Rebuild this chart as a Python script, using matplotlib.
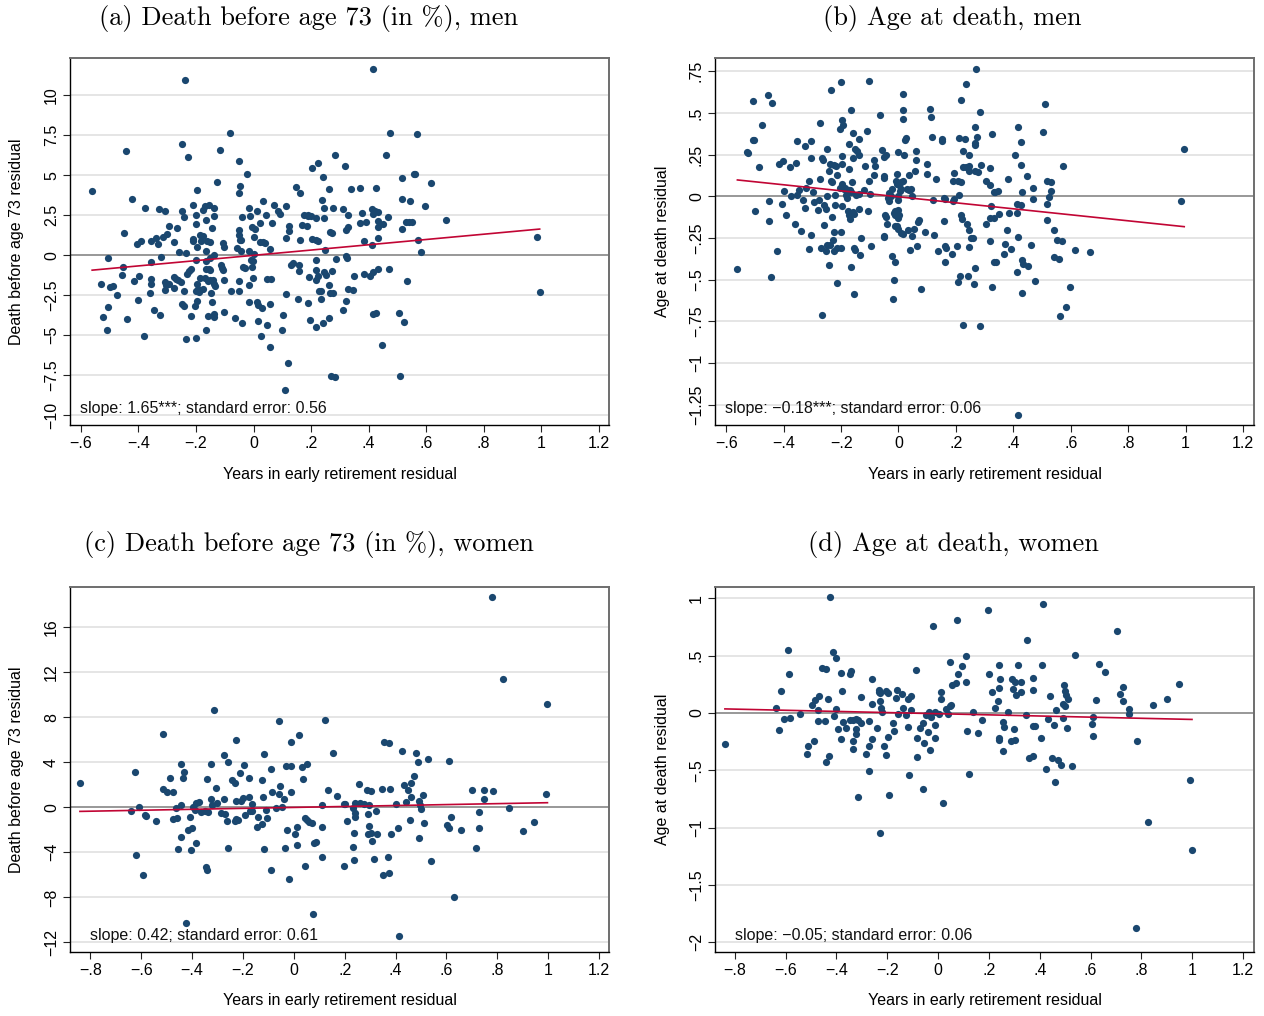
import numpy as np
import matplotlib
matplotlib.use("Agg")
import matplotlib.pyplot as plt

# residual scatter points (x: years in early retirement residual, y: outcome residual)
men_death = [
    (-0.238,10.96),(-0.080,7.65),(-0.249,6.98),(-0.443,6.54),(-0.227,6.13),(-0.117,6.60),(-0.052,5.90),(-0.024,5.10),(-0.128,4.58),(-0.561,4.00),
    (-0.422,3.54),(-0.196,4.06),(-0.048,4.35),(-0.049,3.92),(-0.377,2.98),(-0.327,2.92),(-0.309,2.75),(-0.212,3.17),(-0.248,2.75),(-0.200,2.50),
    (-0.174,2.85),(-0.155,3.17),(-0.137,2.94),(-0.169,3.06),(-0.137,2.44),(-0.241,2.38),(-0.294,1.81),(-0.267,1.73),(-0.200,1.96),(-0.166,2.23),
    (-0.449,1.38),(-0.406,0.73),(-0.391,0.88),(-0.356,0.88),(-0.339,1.08),(-0.333,0.71),(-0.301,1.35),(-0.314,1.15),(-0.278,0.83),(-0.260,0.21),
    (-0.234,0.13),(-0.209,1.00),(-0.212,0.88),(-0.196,0.52),(-0.186,1.29),(-0.174,1.19),(-0.181,0.88),(-0.162,0.88),(-0.150,0.81),(-0.164,0.25),
    (-0.146,1.71),(-0.139,0.04),(-0.106,0.75),(-0.104,0.52),(-0.507,-0.19),(-0.452,-0.75),(-0.456,-1.21),(-0.355,-0.42),(-0.321,-0.13),(-0.201,-0.29),
    (-0.166,-0.38),(-0.151,-0.17),(-0.154,-0.83),(-0.164,-0.83),(-0.151,-0.94),(-0.217,-0.83),(-0.225,-1.00),(-0.232,-1.17),(-0.114,-0.63),(-0.107,-0.94),
    (-0.109,-0.79),(-0.058,0.46),(-0.048,0.98),(-0.037,-0.75),(-0.029,-0.77),(-0.015,0.25),(-0.008,-0.29),(-0.001,-0.33),(0.001,0.08),(-0.006,-0.75),
    (-0.002,-1.44),(-0.045,0.29),(-0.043,0.94),(-0.050,1.25),(-0.052,1.56),(-0.012,2.48),(-0.039,2.40),(-0.015,2.96),(-0.005,1.77),(0.001,1.17),
    (0.012,2.75),(0.032,3.38),(0.021,2.02),(0.006,1.67),(0.023,0.81),(0.034,0.83),(0.043,2.54),(0.039,0.75),(0.056,0.42),(0.070,3.17),
    (0.084,2.79),(0.093,2.60),(0.114,3.06),(0.065,2.04),(0.114,1.06),(0.122,1.81),(0.125,1.54),(0.136,-0.46),(0.129,-0.63),(0.158,-0.58),
    (0.158,-1.00),(0.162,0.98),(0.167,1.90),(0.177,2.54),(0.189,2.54),(0.187,1.85),(0.188,2.46),(0.148,4.27),(0.162,3.92),(0.205,5.46),
    (0.225,5.75),(0.242,4.92),(0.263,4.17),(0.283,6.29),(0.319,5.56),(0.239,3.46),(0.246,2.96),(0.246,2.33),(0.216,2.33),(0.199,2.44),
    (0.202,1.02),(0.218,0.98),(0.224,0.92),(0.250,0.35),(0.216,-0.31),(0.267,1.46),(0.274,1.40),(0.275,2.98),(0.286,-0.23),(0.320,1.56),
    (0.330,1.75),(0.328,2.54),(0.320,-0.06),(0.325,-0.17),(-0.530,-1.79),(-0.500,-1.98),(-0.488,-1.92),(-0.475,-2.48),(-0.506,-3.21),(-0.524,-3.88),
    (-0.509,-4.65),(-0.441,-3.98),(-0.415,-1.58),(-0.399,-1.29),(-0.401,-2.81),(-0.361,-2.35),(-0.355,-1.48),(-0.355,-1.79),(-0.347,-3.40),(-0.326,-3.73),
    (-0.380,-5.06),(-0.307,-1.69),(-0.304,-1.85),(-0.294,-1.79),(-0.306,-2.19),(-0.277,-1.33),(-0.269,-1.46),(-0.263,-1.56),(-0.252,-1.69),(-0.275,-2.04),
    (-0.240,-2.25),(-0.249,-3.04),(-0.243,-3.19),(-0.218,-3.81),(-0.234,-5.21),(-0.201,-5.17),(-0.203,-3.19),(-0.197,-2.83),(-0.199,-2.25),(-0.197,-1.79),
    (-0.192,-2.10),(-0.189,-2.31),(-0.177,-2.10),(-0.185,-1.42),(-0.168,-1.42),(-0.159,-1.63),(-0.151,-1.52),(-0.142,-1.52),(-0.136,-1.77),(-0.133,-1.90),
    (-0.147,-2.38),(-0.144,-2.94),(-0.159,-3.79),(-0.139,-3.65),(-0.136,-3.85),(-0.166,-4.65),(-0.101,-1.52),(-0.102,-3.56),(-0.079,-2.25),(-0.052,-1.63),
    (-0.051,-2.25),(-0.064,-3.92),(-0.039,-4.23),(-0.015,-2.92),(-0.017,-1.83),(0.012,-2.94),(0.017,-3.08),(0.029,-3.29),(0.014,-4.13),(0.026,-5.02),
    (0.048,-4.35),(0.057,-3.02),(0.059,-5.71),(0.046,-1.50),(0.061,-1.46),(0.101,-3.71),(0.114,-2.42),(0.099,-4.65),(0.119,-6.75),(0.111,-8.44),
    (0.154,-2.71),(0.189,-3.00),(0.197,-4.02),(0.219,-4.50),(0.241,-4.23),(0.216,-0.90),(0.223,-1.31),(0.244,-1.04),(0.251,-1.21),(0.226,-2.21),
    (0.234,-2.21),(0.234,-2.73),(0.192,-1.33),(0.261,-1.83),(0.267,-2.38),(0.278,-2.38),(0.264,-3.92),(0.270,-7.54),(0.284,-7.63),(0.311,-3.44),
    (0.322,-2.88),(0.328,-2.10),(0.274,-0.96),(0.217,-1.54),
    (0.417,11.65),(0.475,7.65),(0.569,7.58),(0.462,6.27),(0.516,4.81),(0.558,5.08),(0.562,5.08),(0.616,4.54),(0.340,4.15),(0.369,4.21),
    (0.427,4.21),(0.518,3.50),(0.543,3.42),(0.597,3.10),(0.311,2.92),(0.377,2.65),(0.413,2.92),(0.414,2.58),(0.424,2.75),(0.433,2.69),
    (0.467,2.40),(0.369,2.04),(0.392,2.10),(0.433,2.13),(0.450,1.98),(0.433,1.79),(0.531,2.10),(0.542,2.10),(0.550,2.10),(0.668,2.23),
    (0.518,1.67),(0.385,0.92),(0.432,1.10),(0.413,0.63),(0.573,0.98),(0.584,0.21),(0.986,1.13),(0.995,-2.27),(0.383,-1.15),(0.406,-1.31),
    (0.415,-1.02),(0.433,-0.88),(0.471,-0.88),(0.351,-1.31),(0.532,-1.60),(0.345,-2.15),(0.415,-3.69),(0.427,-3.60),(0.505,-3.63),(0.523,-4.15),
    (0.446,-5.63),(0.511,-7.54),
]

men_age = [
    (0.269,0.764),(0.235,0.674),(0.219,0.578),(0.283,0.506),(0.265,0.416),(0.326,0.374),(0.275,0.354),(0.265,0.322),(0.265,0.306),(0.211,0.352),
    (0.231,0.346),(0.245,0.246),(0.226,0.270),(0.224,0.178),(0.234,0.178),(0.247,0.184),(0.246,0.150),(0.265,0.150),(0.277,0.144),(0.288,0.186),
    (0.319,0.172),(0.190,0.090),(0.206,0.090),(0.219,0.086),(0.195,0.138),(0.306,0.090),(0.320,0.068),(0.333,0.024),(0.212,0.010),(0.194,-0.014),
    (0.190,-0.030),(0.160,-0.012),(0.158,-0.146),(0.218,-0.114),(0.220,-0.134),(0.239,-0.166),(0.247,-0.204),(0.253,-0.252),(0.261,-0.252),(0.202,-0.298),
    (0.244,-0.306),(0.306,-0.164),(0.318,-0.128),(0.321,-0.056),(0.319,-0.268),(0.333,-0.394),(0.326,-0.542),(0.265,-0.430),(0.215,-0.476),(0.207,-0.512),
    (0.242,-0.476),(0.263,-0.524),(0.224,-0.772),(0.283,-0.778),(0.139,-0.330),(0.162,-0.300),(0.167,-0.310),(0.187,-0.348),(0.162,-0.396),(0.080,-0.554),
    (0.064,-0.300),(0.041,-0.322),(0.093,-0.214),(0.125,-0.230),(0.070,-0.144),(0.068,-0.156),(0.055,-0.198),(0.034,-0.200),(0.046,-0.240),(0.014,-0.226),
    (0.000,-0.196),(-0.006,-0.176),(-0.013,-0.176),(0.009,-0.220),(-0.013,-0.110),(0.003,-0.110),(-0.003,-0.080),(-0.012,-0.086),(-0.048,-0.110),(-0.044,-0.124),
    (-0.039,-0.164),(-0.051,-0.236),(-0.050,-0.246),(-0.024,-0.360),(-0.012,-0.392),(-0.015,-0.504),(-0.019,-0.614),(-0.097,-0.300),(-0.133,-0.354),(-0.154,-0.310),
    (-0.150,-0.324),(-0.164,-0.426),(-0.129,-0.248),(-0.154,-0.584),(-0.213,-0.522),(-0.265,-0.710),(-0.243,-0.410),(-0.253,-0.330),(-0.250,-0.290),(-0.229,-0.262),
    (-0.224,-0.216),(-0.199,-0.214),(-0.225,-0.330),(-0.213,-0.310),(-0.199,-0.312),(-0.237,-0.290),(-0.269,-0.310),(-0.310,-0.314),(-0.305,-0.230),(-0.340,-0.210),
    (-0.361,-0.164),(-0.391,-0.112),(-0.422,-0.326),(-0.443,-0.486),(-0.452,-0.146),(-0.499,-0.086),(-0.561,-0.434),(-0.452,-0.030),(-0.406,-0.048),(-0.399,0.030),
    (-0.375,0.002),(-0.355,0.008),(-0.345,0.038),(-0.322,0.052),(-0.313,0.090),(-0.296,0.026),(-0.334,-0.020),(-0.327,-0.072),(-0.295,-0.032),(-0.276,-0.024),
    (-0.261,-0.050),(-0.280,-0.080),(-0.251,-0.076),(-0.260,-0.170),(-0.233,-0.126),(-0.221,0.006),(-0.231,0.088),(-0.198,0.076),(-0.188,0.052),(-0.184,0.006),
    (-0.172,0.036),(-0.168,0.038),(-0.161,0.084),(-0.166,0.026),(-0.181,-0.012),(-0.198,-0.056),(-0.176,-0.086),(-0.173,-0.112),(-0.168,-0.134),(-0.158,-0.094),
    (-0.155,-0.106),(-0.138,-0.076),(-0.148,0.010),(-0.139,0.016),(-0.107,-0.088),(-0.100,0.014),(-0.104,0.094),(-0.115,0.182),(-0.085,0.218),(-0.081,0.180),
    (-0.056,0.278),(-0.051,0.238),(-0.043,0.246),(-0.052,0.120),(-0.050,0.108),(-0.021,0.046),(-0.038,-0.010),(-0.032,-0.030),(-0.009,0.092),(-0.006,0.074),
    (0.002,0.070),(-0.005,0.136),(0.009,0.086),(-0.002,0.268),(0.020,0.246),(0.023,0.336),(0.027,0.350),(0.014,0.462),(0.015,0.520),(0.017,0.616),
    (-0.063,0.488),(-0.103,0.694),(-0.201,0.688),(-0.235,0.640),(-0.166,0.516),(-0.197,0.458),(-0.194,0.426),(-0.202,0.402),(-0.159,0.382),(-0.111,0.394),
    (-0.138,0.342),(-0.174,0.314),(-0.151,0.286),(-0.146,0.270),(-0.138,0.250),(-0.159,0.228),(-0.195,0.242),(-0.197,0.196),(-0.171,0.164),(-0.217,0.182),
    (-0.223,0.190),(-0.240,0.194),(-0.241,0.150),(-0.235,0.090),(-0.213,0.130),(-0.272,0.440),(-0.249,0.286),(-0.267,0.230),(-0.264,0.216),(-0.305,0.232),
    (-0.306,0.334),(-0.325,0.300),(-0.355,0.332),(-0.356,0.198),(-0.379,0.174),(-0.402,0.212),(-0.416,0.194),(-0.485,0.178),(-0.526,0.264),(-0.524,0.258),
    (-0.508,0.338),(-0.504,0.338),(-0.477,0.430),(-0.507,0.570),(-0.456,0.610),(-0.439,0.558),(-0.275,0.106),(-0.250,0.004),(-0.221,-0.052),(-0.204,0.052),
    (-0.190,0.046),(-0.119,0.040),(-0.085,0.130),(-0.034,0.018),(-0.030,0.010),(-0.026,0.004),(-0.003,0.000),(0.030,0.044),(0.035,0.040),(0.042,0.046),
    (0.046,0.002),(0.035,0.126),(0.057,0.150),(0.060,0.220),(0.060,0.274),(0.101,0.194),(0.099,0.136),(0.131,0.104),(0.118,0.354),(0.112,0.478),
    (0.110,0.526),(0.153,0.334),(0.150,0.346),(0.119,-0.020),(0.161,-0.016),(0.014,0.090),(0.010,0.044),(0.006,0.030),(-0.003,-0.020),(-0.014,-0.098),
    (-0.001,-0.130),
    (0.510,0.556),(0.416,0.414),(0.504,0.388),(0.426,0.324),(0.405,0.246),(0.425,0.190),(0.572,0.180),(0.446,0.124),(0.383,0.106),(0.518,0.092),
    (0.532,0.086),(0.532,0.030),(0.470,0.050),(0.431,0.024),(0.336,0.024),(0.345,0.030),(0.467,-0.018),(0.523,-0.006),(0.518,-0.046),(0.414,-0.046),
    (0.427,-0.054),(0.412,-0.100),(0.385,-0.102),(0.351,-0.106),(0.331,-0.132),(0.517,-0.142),(0.377,-0.202),(0.543,-0.202),(0.416,-0.242),(0.551,-0.264),
    (0.571,-0.268),(0.370,-0.286),(0.462,-0.292),(0.391,-0.316),(0.615,-0.320),(0.668,-0.332),(0.369,-0.346),(0.541,-0.364),(0.559,-0.376),(0.340,-0.396),
    (0.430,-0.384),(0.432,-0.406),(0.450,-0.420),(0.412,-0.454),(0.474,-0.508),(0.596,-0.542),(0.431,-0.580),(0.583,-0.664),(0.561,-0.716),(0.417,-1.312),
    (0.995,0.282),(0.985,-0.026),
]

women_death = [
    (-0.841,2.13),(-0.626,3.14),(-0.608,0.03),(-0.640,-0.30),(-0.587,-0.65),(-0.583,-0.74),(-0.543,-1.19),(-0.621,-4.24),(-0.592,-5.99),(-0.516,6.52),
    (-0.514,1.60),(-0.497,1.36),(-0.475,1.36),(-0.486,2.61),(-0.465,-0.06),(-0.476,-1.07),(-0.459,-0.92),(-0.442,3.88),(-0.432,3.14),(-0.436,2.64),
    (-0.445,0.21),(-0.442,-2.64),(-0.455,-3.73),(-0.409,-0.86),(-0.415,-1.99),(-0.402,-1.84),(-0.404,-3.76),(-0.383,-3.20),(-0.425,-10.25),(-0.398,0.00),
    (-0.383,0.41),(-0.374,0.50),(-0.390,-0.24),(-0.366,-0.41),(-0.350,-0.36),(-0.340,2.49),(-0.325,3.85),(-0.315,8.65),(-0.325,0.71),(-0.320,0.18),
    (-0.304,0.41),(-0.307,1.69),(-0.337,-0.41),(-0.346,-5.33),(-0.341,-5.60),(-0.287,-0.53),(-0.276,0.77),(-0.272,-0.59),(-0.274,4.68),(-0.258,4.03),
    (-0.262,-1.19),(-0.258,-3.61),(-0.245,2.40),(-0.232,2.16),(-0.228,5.99),(-0.226,0.53),(-0.228,-1.01),(-0.230,-1.21),(-0.219,-1.10),(-0.213,3.02),
    (-0.206,0.59),(-0.201,0.86),(-0.194,3.79),(-0.193,-0.68),(-0.177,2.61),(-0.175,0.89),(-0.173,-0.30),(-0.165,0.30),(-0.163,-0.30),(-0.140,-0.86),
    (-0.126,-1.51),(-0.144,-1.72),(-0.126,2.43),(-0.120,0.92),(-0.117,4.77),(-0.108,-0.24),(-0.106,-0.92),(-0.119,-3.70),(-0.088,3.41),(-0.084,1.36),
    (-0.088,-5.60),(-0.072,-0.06),(-0.056,1.90),(-0.059,7.64),(-0.059,1.19),(-0.047,0.00),(-0.037,0.77),(-0.031,3.64),(-0.013,3.64),(-0.013,5.78),
    (-0.012,1.36),(-0.028,-1.99),(-0.020,-6.34),(-0.034,-3.64),(0.005,-2.37),(0.012,-1.75),(0.013,-3.38),(0.020,6.46),(0.035,2.52),(0.034,3.59),
    (0.050,3.85),(0.045,-0.92),(0.052,-1.16),(0.059,-1.33),(0.072,-1.42),(0.043,-5.24),(0.080,-3.14),(0.089,-3.08),(0.075,-9.51),(0.109,-1.78),
    (0.110,-4.44),(0.112,0.24),(0.121,7.76),(0.134,1.57),(0.155,4.80),(0.169,0.98),(0.198,-5.24),(0.199,0.30),(0.210,-1.19),
    (0.778,18.73),(0.823,11.41),(0.997,9.19),(0.356,5.84),(0.375,5.75),(0.425,5.01),(0.480,4.83),(0.487,4.03),(0.528,4.27),(0.610,4.15),
    (0.471,2.76),(0.460,2.16),(0.433,1.96),(0.449,1.57),(0.462,0.95),(0.346,1.66),(0.378,1.66),(0.287,1.57),(0.302,1.42),(0.255,2.10),
    (0.509,1.07),(0.492,0.53),(0.496,0.18),(0.499,-0.12),(0.440,0.47),(0.402,0.27),(0.201,0.27),(0.242,0.41),(0.260,0.41),(0.277,0.33),
    (0.295,0.18),(0.231,-0.06),(0.239,-0.50),(0.242,-0.83),(0.293,-0.56),(0.323,-0.36),(0.294,-1.66),(0.291,-2.34),(0.304,-2.28),(0.327,-2.40),
    (0.307,-3.02),(0.238,-2.25),(0.234,-3.53),(0.238,-4.65),(0.315,-4.56),(0.370,-4.41),(0.349,-6.01),(0.375,-5.87),(0.382,-2.34),(0.408,-1.84),
    (0.455,-1.16),(0.510,-1.42),(0.493,-2.70),(0.539,-4.80),(0.412,-11.41),(0.631,-8.00),(0.604,-1.60),(0.609,-1.81),(0.618,-0.89),(0.656,-2.04),
    (0.701,1.54),(0.748,1.54),(0.781,1.45),(0.748,0.77),(0.726,-0.41),(0.727,-1.87),(0.715,-3.64),(0.844,-0.09),(0.899,-2.07),(0.945,-1.27),
    (0.993,1.19),
]

women_age = [
    (-0.839,-0.273),(-0.639,0.047),(-0.625,-0.151),(-0.618,0.192),(-0.608,-0.055),(-0.592,0.549),(-0.587,0.337),(-0.583,-0.041),(-0.542,-0.006),(-0.513,-0.288),
    (-0.516,-0.360),(-0.495,0.070),(-0.487,-0.241),(-0.483,0.116),(-0.474,0.023),(-0.467,0.145),(-0.471,-0.067),(-0.455,0.395),(-0.443,0.381),(-0.445,-0.070),
    (-0.441,-0.424),(-0.430,-0.372),(-0.434,0.119),(-0.424,1.012),(-0.413,0.532),(-0.403,0.480),(-0.408,-0.029),(-0.400,0.035),(-0.394,-0.137),(-0.383,-0.224),
    (-0.381,0.352),(-0.377,0.195),(-0.374,-0.078),(-0.362,-0.131),(-0.346,0.340),(-0.341,0.369),(-0.345,-0.064),(-0.335,-0.064),(-0.336,-0.311),(-0.333,-0.247),
    (-0.325,-0.183),(-0.323,-0.049),(-0.323,-0.137),(-0.315,-0.058),(-0.314,-0.733),(-0.304,0.140),(-0.302,-0.087),(-0.285,-0.360),(-0.273,-0.073),(-0.272,-0.506),
    (-0.271,-0.288),(-0.262,0.076),(-0.259,0.294),(-0.259,-0.224),(-0.240,-0.128),(-0.232,0.203),(-0.231,0.183),(-0.229,0.102),(-0.227,0.172),(-0.226,0.044),
    (-0.222,0.009),(-0.228,-1.049),(-0.213,-0.291),(-0.205,-0.363),(-0.205,0.195),(-0.196,0.177),(-0.196,-0.209),(-0.194,-0.718),(-0.178,-0.084),(-0.173,-0.157),
    (-0.165,0.134),(-0.161,0.201),(-0.159,-0.009),(-0.144,0.163),(-0.140,0.044),(-0.127,-0.020),(-0.119,-0.122),(-0.119,0.119),(-0.106,0.145),(-0.115,-0.541),
    (-0.106,0.026),(-0.088,0.375),(-0.085,-0.218),(-0.085,-0.387),(-0.071,-0.131),(-0.058,-0.090),(-0.056,-0.265),(-0.059,-0.663),(-0.048,-0.015),(-0.038,-0.166),
    (-0.034,0.009),(-0.030,-0.320),(-0.028,-0.032),(-0.020,0.756),(-0.012,0.009),(-0.012,-0.108),(-0.013,-0.215),(0.004,-0.009),(0.013,0.125),(0.013,0.186),
    (0.020,-0.782),(0.032,0.038),(0.038,-0.006),(0.045,0.445),(0.047,0.058),(0.049,0.067),(0.056,0.247),(0.072,0.265),(0.076,0.811),(0.079,0.343),
    (0.092,0.413),(0.110,0.494),(0.110,0.270),(0.112,-0.160),(0.121,-0.532),(0.136,0.006),(0.157,-0.174),(0.171,-0.061),(0.198,0.898),(0.201,0.343),
    (0.211,0.183),(0.222,0.047),
    (0.413,0.953),(0.350,0.634),(0.702,0.718),(0.539,0.506),(0.239,0.416),(0.316,0.419),(0.408,0.419),(0.633,0.427),(0.656,0.355),(0.244,0.297),
    (0.291,0.299),(0.303,0.273),(0.328,0.273),(0.375,0.308),(0.238,0.221),(0.295,0.206),(0.306,0.154),(0.325,0.180),(0.372,0.201),(0.441,0.148),
    (0.496,0.241),(0.501,0.195),(0.504,0.154),(0.510,0.122),(0.493,0.081),(0.500,0.061),(0.235,0.105),(0.276,0.012),(0.346,-0.020),(0.433,-0.049),
    (0.463,0.023),(0.493,-0.044),(0.620,0.113),(0.610,-0.038),(0.605,-0.093),(0.611,-0.198),(0.717,0.163),(0.727,0.227),(0.726,0.102),(0.750,0.038),
    (0.750,-0.006),(0.844,0.067),(0.900,0.125),(0.946,0.253),(0.255,-0.078),(0.260,-0.125),(0.297,-0.142),(0.240,-0.218),(0.241,-0.238),(0.287,-0.247),
    (0.302,-0.233),(0.256,-0.331),(0.375,-0.116),(0.382,-0.110),(0.403,-0.218),(0.457,-0.108),(0.509,-0.134),(0.357,-0.395),(0.375,-0.375),(0.447,-0.395),
    (0.472,-0.413),(0.483,-0.456),(0.426,-0.491),(0.528,-0.465),(0.461,-0.602),(0.782,-0.247),(0.993,-0.581),(0.824,-0.953),(0.999,-1.198),(0.778,-1.872),
]

# fitted line: (slope, intercept)
fits = [(1.65, 0.0), (-0.18, -0.003), (0.42, -0.01), (-0.05, -0.006)]
notes = ["slope: 1.65***; standard error: 0.56",
         "slope: \u22120.18***; standard error: 0.06",
         "slope: 0.42; standard error: 0.61",
         "slope: \u22120.05; standard error: 0.06"]
titles = ["(a) Death before age 73 (in %), men",
          "(b) Age at death, men",
          "(c) Death before age 73 (in %), women",
          "(d) Age at death, women"]
ylabels = ["Death before age 73 residual", "Age at death residual",
           "Death before age 73 residual", "Age at death residual"]
xlabel = "Years in early retirement residual"

M = "\u2212"
xticks_men = [-0.6, -0.4, -0.2, 0, 0.2, 0.4, 0.6, 0.8, 1, 1.2]
xlabels_men = [M+".6", M+".4", M+".2", "0", ".2", ".4", ".6", ".8", "1", "1.2"]
xticks_women = [-0.8] + xticks_men
xlabels_women = [M+".8"] + xlabels_men
yticks = [
    [-10, -7.5, -5, -2.5, 0, 2.5, 5, 7.5, 10],
    [-1.25, -1, -0.75, -0.5, -0.25, 0, 0.25, 0.5, 0.75],
    [-12, -8, -4, 0, 4, 8, 12, 16],
    [-2, -1.5, -1, -0.5, 0, 0.5, 1],
]
ytlabels = [
    [M+"10", M+"7.5", M+"5", M+"2.5", "0", "2.5", "5", "7.5", "10"],
    [M+"1.25", M+"1", M+".75", M+".5", M+".25", "0", ".25", ".5", ".75"],
    [M+"12", M+"8", M+"4", "0", "4", "8", "12", "16"],
    [M+"2", M+"1.5", M+"1", M+".5", "0", ".5", "1"],
]
xlims = [(-0.638, 1.236), (-0.639, 1.238), (-0.88, 1.239), (-0.878, 1.243)]
ylims = [(-10.6, 12.33), (-1.371, 0.829), (-12.86, 19.58), (-2.084, 1.099)]

plt.rcParams['font.family'] = ['Liberation Sans', 'DejaVu Sans']

W, H = 1264, 1016
fig = plt.figure(figsize=(W / 100, H / 100), dpi=100)

boxes = [(70, 58, 609, 425), (715, 58, 1254, 425), (70, 587, 609, 952), (715, 587, 1254, 952)]
datasets = [men_death, men_age, women_death, women_age]
title_pos = [(309, 18), (952, 18), (309, 545), (953, 545)]
ylab_x = [17, 662, 17, 662]
note_x = [0.019, 0.019, 0.037, 0.037]

navy = '#1a476f'
red = '#c10534'
fs = 11.5

for i in range(4):
    l, t, r, b = boxes[i]
    ax = fig.add_axes([l / W, 1 - b / H, (r - l) / W, (b - t) / H])
    pts = np.array(datasets[i])
    ax.scatter(pts[:, 0], pts[:, 1], s=27, color=navy, linewidths=0, zorder=3)
    slope, icpt = fits[i]
    xs = np.array([pts[:, 0].min(), pts[:, 0].max()])
    ax.plot(xs, slope * xs + icpt, color=red, lw=1.2, zorder=4)
    ax.axhline(0, color='#8c8c8c', lw=1.2, zorder=2)

    ax.set_xlim(*xlims[i])
    ax.set_ylim(*ylims[i])
    if i < 2:
        ax.set_xticks(xticks_men)
        ax.set_xticklabels(xlabels_men)
    else:
        ax.set_xticks(xticks_women)
        ax.set_xticklabels(xlabels_women)
    ax.set_yticks(yticks[i])
    ax.set_yticklabels(ytlabels[i], rotation=90, va='center')
    ax.yaxis.grid(True, color='#e3e3e3', lw=1.3, zorder=1)
    ax.set_axisbelow(True)
    ax.tick_params(axis='both', labelsize=fs, length=5, width=0.8, color='#222222', pad=3)

    for side in ['left', 'bottom']:
        ax.spines[side].set_color('black')
        ax.spines[side].set_linewidth(1.0)
    for side in ['top', 'right']:
        ax.spines[side].set_color('#6e6e6e')
        ax.spines[side].set_linewidth(1.4)

    ax.text(note_x[i], 0.046, notes[i], transform=ax.transAxes, fontsize=fs,
            ha='left', va='center', color='#111111')

    fig.text(title_pos[i][0] / W, 1 - title_pos[i][1] / H, titles[i],
             family='cmr10', fontsize=19, ha='center', va='center')
    fig.text(ylab_x[i] / W, 1 - ((t + b) / 2) / H, ylabels[i], rotation=90,
             fontsize=fs, ha='center', va='center')
    fig.text(((l + r) / 2) / W, 1 - (b + 49) / H, xlabel,
             fontsize=fs, ha='center', va='center')

fig.savefig('out.png', dpi=100)
